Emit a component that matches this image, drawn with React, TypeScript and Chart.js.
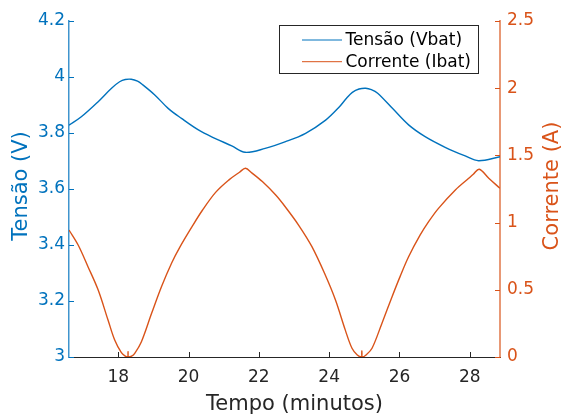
import { useEffect, useRef } from "react";
import { Chart, registerables } from "chart.js";

Chart.register(...registerables);

// Battery voltage samples (minutes, volts)
const voltTime = [
  16.6, 16.95, 17.43, 17.81, 18.04, 18.2, 18.37, 18.55, 18.7, 19.04, 19.42, 19.8,
  20.28, 20.75, 21.23, 21.61, 22.18, 22.76, 23.33, 23.9, 24.28, 24.5, 24.66, 24.85, 25.04,
  25.2, 25.38, 25.8, 26.26, 26.73, 27.3, 27.87, 28.25, 28.86,
];
const voltValues = [
  3.828, 3.858, 3.912, 3.96, 3.983, 3.991, 3.992, 3.985, 3.972, 3.936, 3.888, 3.852,
  3.811, 3.781, 3.754, 3.731, 3.745, 3.769, 3.799, 3.846, 3.892, 3.925, 3.945, 3.957, 3.96,
  3.955, 3.942, 3.888, 3.829, 3.787, 3.749, 3.718, 3.701, 3.715,
];

// Battery current samples (minutes, amperes)
const currTime = [
  16.6, 16.86, 17.14, 17.43, 17.71, 17.9, 18.09, 18.2, 18.27, 18.28, 18.29, 18.38,
  18.47, 18.66, 18.95, 19.23, 19.52, 19.75, 20.1, 20.39, 20.77, 21.15, 21.45, 21.62,
  21.8, 22.1, 22.48, 22.75, 23.13, 23.51, 23.89, 24.18, 24.46, 24.65, 24.8, 24.92,
  24.93, 24.94, 25.05, 25.22, 25.5, 25.79, 26.02, 26.26, 26.59, 26.83, 27.11, 27.59,
  27.97, 28.1, 28.27, 28.54, 28.86,
];
const currValues = [
  0.945, 0.833, 0.672, 0.498, 0.275, 0.126, 0.032, 0.006, 0.0, 0.04, 0.0, 0.006,
  0.027, 0.114, 0.325, 0.523, 0.7, 0.816, 0.97, 1.09, 1.225, 1.318, 1.375, 1.404,
  1.37, 1.305, 1.205, 1.118, 0.982, 0.821, 0.61, 0.424, 0.2, 0.065, 0.015, 0.0,
  0.045, 0.0, 0.015, 0.065, 0.25, 0.449, 0.6, 0.746, 0.908, 1.007, 1.106, 1.243,
  1.33, 1.36, 1.397, 1.33, 1.255,
];

const timeTicks = [18, 20, 22, 24, 26, 28];
const voltTicks = [3, 3.2, 3.4, 3.6, 3.8, 4, 4.2];
const currTicks = [0, 0.5, 1, 1.5, 2, 2.5];

const seriesNames = ["Tensão (Vbat)", "Corrente (Ibat)"];
const xTitle = "Tempo (minutos)";
const voltTitle = "Tensão (V)";
const currTitle = "Corrente (A)";

const BLUE = "#0072BD";
const ORANGE = "#D95319";
const DARK = "#262626";
const FONT = "'DejaVu Sans', sans-serif";

const fmt = (v: number | string) => String(Number(Number(v).toFixed(2)));

// Tick marks pointing into the plot area, drawn over the data
const inwardTicks = {
  id: "inwardTicks",
  afterDatasetsDraw(chart: any) {
    const { ctx, chartArea: a, scales } = chart;
    const L = 5;
    ctx.save();
    ctx.lineWidth = 1;
    ctx.strokeStyle = DARK;
    scales.x.ticks.forEach((t: any) => {
      const px = Math.round(scales.x.getPixelForValue(t.value)) + 0.5;
      ctx.beginPath();
      ctx.moveTo(px, a.bottom);
      ctx.lineTo(px, a.bottom - L);
      ctx.stroke();
    });
    ctx.strokeStyle = BLUE;
    scales.yV.ticks.forEach((t: any) => {
      const py = Math.round(scales.yV.getPixelForValue(t.value)) + 0.5;
      ctx.beginPath();
      ctx.moveTo(a.left, py);
      ctx.lineTo(a.left + L, py);
      ctx.stroke();
    });
    ctx.strokeStyle = ORANGE;
    scales.yI.ticks.forEach((t: any) => {
      const py = Math.round(scales.yI.getPixelForValue(t.value)) + 0.5;
      ctx.beginPath();
      ctx.moveTo(a.right, py);
      ctx.lineTo(a.right - L, py);
      ctx.stroke();
    });
    ctx.restore();
  },
};

// Axis titles; both vertical titles read bottom-to-top
const axisTitles = {
  id: "axisTitles",
  afterDraw(chart: any) {
    const { ctx, chartArea: a } = chart;
    const midY = (a.top + a.bottom) / 2 - 3;
    ctx.save();
    ctx.font = `21px ${FONT}`;
    ctx.textAlign = "center";
    ctx.textBaseline = "alphabetic";

    ctx.fillStyle = BLUE;
    ctx.save();
    ctx.translate(a.left - 42, midY);
    ctx.rotate(-Math.PI / 2);
    ctx.fillText(voltTitle, 0, 0);
    ctx.restore();

    ctx.fillStyle = ORANGE;
    ctx.save();
    ctx.translate(a.right + 58, midY);
    ctx.rotate(-Math.PI / 2);
    ctx.fillText(currTitle, 0, 0);
    ctx.restore();

    ctx.fillStyle = DARK;
    ctx.fillText(xTitle, (a.left + a.right) / 2 + 10, a.bottom + 53);
    ctx.restore();
  },
};

// Boxed legend in the upper right of the plot area
const boxLegend = {
  id: "boxLegend",
  afterDraw(chart: any) {
    const { ctx, chartArea: a } = chart;
    const right = a.right - 21.5;
    const top = a.top + 4.5;
    const w = 199;
    const h = 48;
    const left = right - w;
    ctx.save();
    ctx.fillStyle = "#ffffff";
    ctx.fillRect(left, top, w, h);
    ctx.strokeStyle = DARK;
    ctx.lineWidth = 1;
    ctx.strokeRect(left, top, w, h);
    ctx.font = `17px ${FONT}`;
    ctx.textAlign = "left";
    ctx.textBaseline = "middle";
    chart.data.datasets.forEach((ds: any, i: number) => {
      const y = top + 14.5 + i * 21.7;
      ctx.strokeStyle = ds.borderColor;
      ctx.lineWidth = 1;
      ctx.beginPath();
      ctx.moveTo(left + 22.5, y);
      ctx.lineTo(left + 62.5, y);
      ctx.stroke();
      ctx.fillStyle = "#000000";
      ctx.fillText(ds.label, left + 66, y + 1);
    });
    ctx.restore();
  },
};

export default function App() {
  const canvasRef = useRef<HTMLCanvasElement | null>(null);

  useEffect(() => {
    const canvas = canvasRef.current;
    if (!canvas) return;
    const chart = new Chart(canvas, {
      type: "line",
      data: {
        datasets: [
          {
            label: seriesNames[0],
            data: voltTime.map((t, i) => ({ x: t, y: voltValues[i] })),
            yAxisID: "yV",
            borderColor: BLUE,
            borderWidth: 1.4,
            pointRadius: 0,
            fill: false,
            tension: 0.35,
          },
          {
            label: seriesNames[1],
            data: currTime.map((t, i) => ({ x: t, y: currValues[i] })),
            yAxisID: "yI",
            borderColor: ORANGE,
            borderWidth: 1.4,
            pointRadius: 0,
            fill: false,
            tension: 0.35,
          },
        ],
      },
      options: {
        animation: false,
        responsive: false,
        devicePixelRatio: 1,
        layout: { padding: { top: 21, left: 0, right: 0, bottom: 0 } },
        plugins: { legend: { display: false }, tooltip: { enabled: false } },
        scales: {
          x: {
            type: "linear",
            min: 16.6,
            max: 28.86,
            afterBuildTicks: (s: any) => {
              s.ticks = timeTicks.map((v) => ({ value: v }));
            },
            afterFit: (s: any) => {
              s.height = 59;
            },
            grid: { display: false, drawTicks: false },
            border: { display: true, color: DARK, width: 1 },
            ticks: {
              padding: 10,
              color: DARK,
              font: { family: FONT, size: 17 },
              callback: (v: any) => fmt(v),
            },
          },
          yV: {
            type: "linear",
            position: "left",
            min: 3,
            max: 4.2,
            afterBuildTicks: (s: any) => {
              s.ticks = voltTicks.map((v) => ({ value: v }));
            },
            afterFit: (s: any) => {
              s.width = 69;
            },
            grid: { display: false, drawTicks: false },
            border: { display: true, color: "rgba(0,114,189,0.75)", width: 1.5 },
            ticks: {
              padding: 4,
              color: BLUE,
              font: { family: FONT, size: 17 },
              callback: (v: any) => fmt(v),
            },
          },
          yI: {
            type: "linear",
            position: "right",
            min: 0,
            max: 2.5,
            afterBuildTicks: (s: any) => {
              s.ticks = currTicks.map((v) => ({ value: v }));
            },
            afterFit: (s: any) => {
              s.width = 63;
            },
            grid: { display: false, drawTicks: false },
            border: { display: true, color: "rgba(217,83,25,0.6)", width: 2 },
            ticks: {
              padding: 7,
              color: ORANGE,
              font: { family: FONT, size: 17 },
              callback: (v: any) => fmt(v),
            },
          },
        },
      },
      plugins: [inwardTicks, boxLegend, axisTitles],
    } as any);
    return () => chart.destroy();
  }, []);

  return (
    <div style={{ position: "absolute", left: 0, top: 0, width: 563, height: 416, background: "#ffffff" }}>
      <canvas ref={canvasRef} width={563} height={416} />
    </div>
  );
}
